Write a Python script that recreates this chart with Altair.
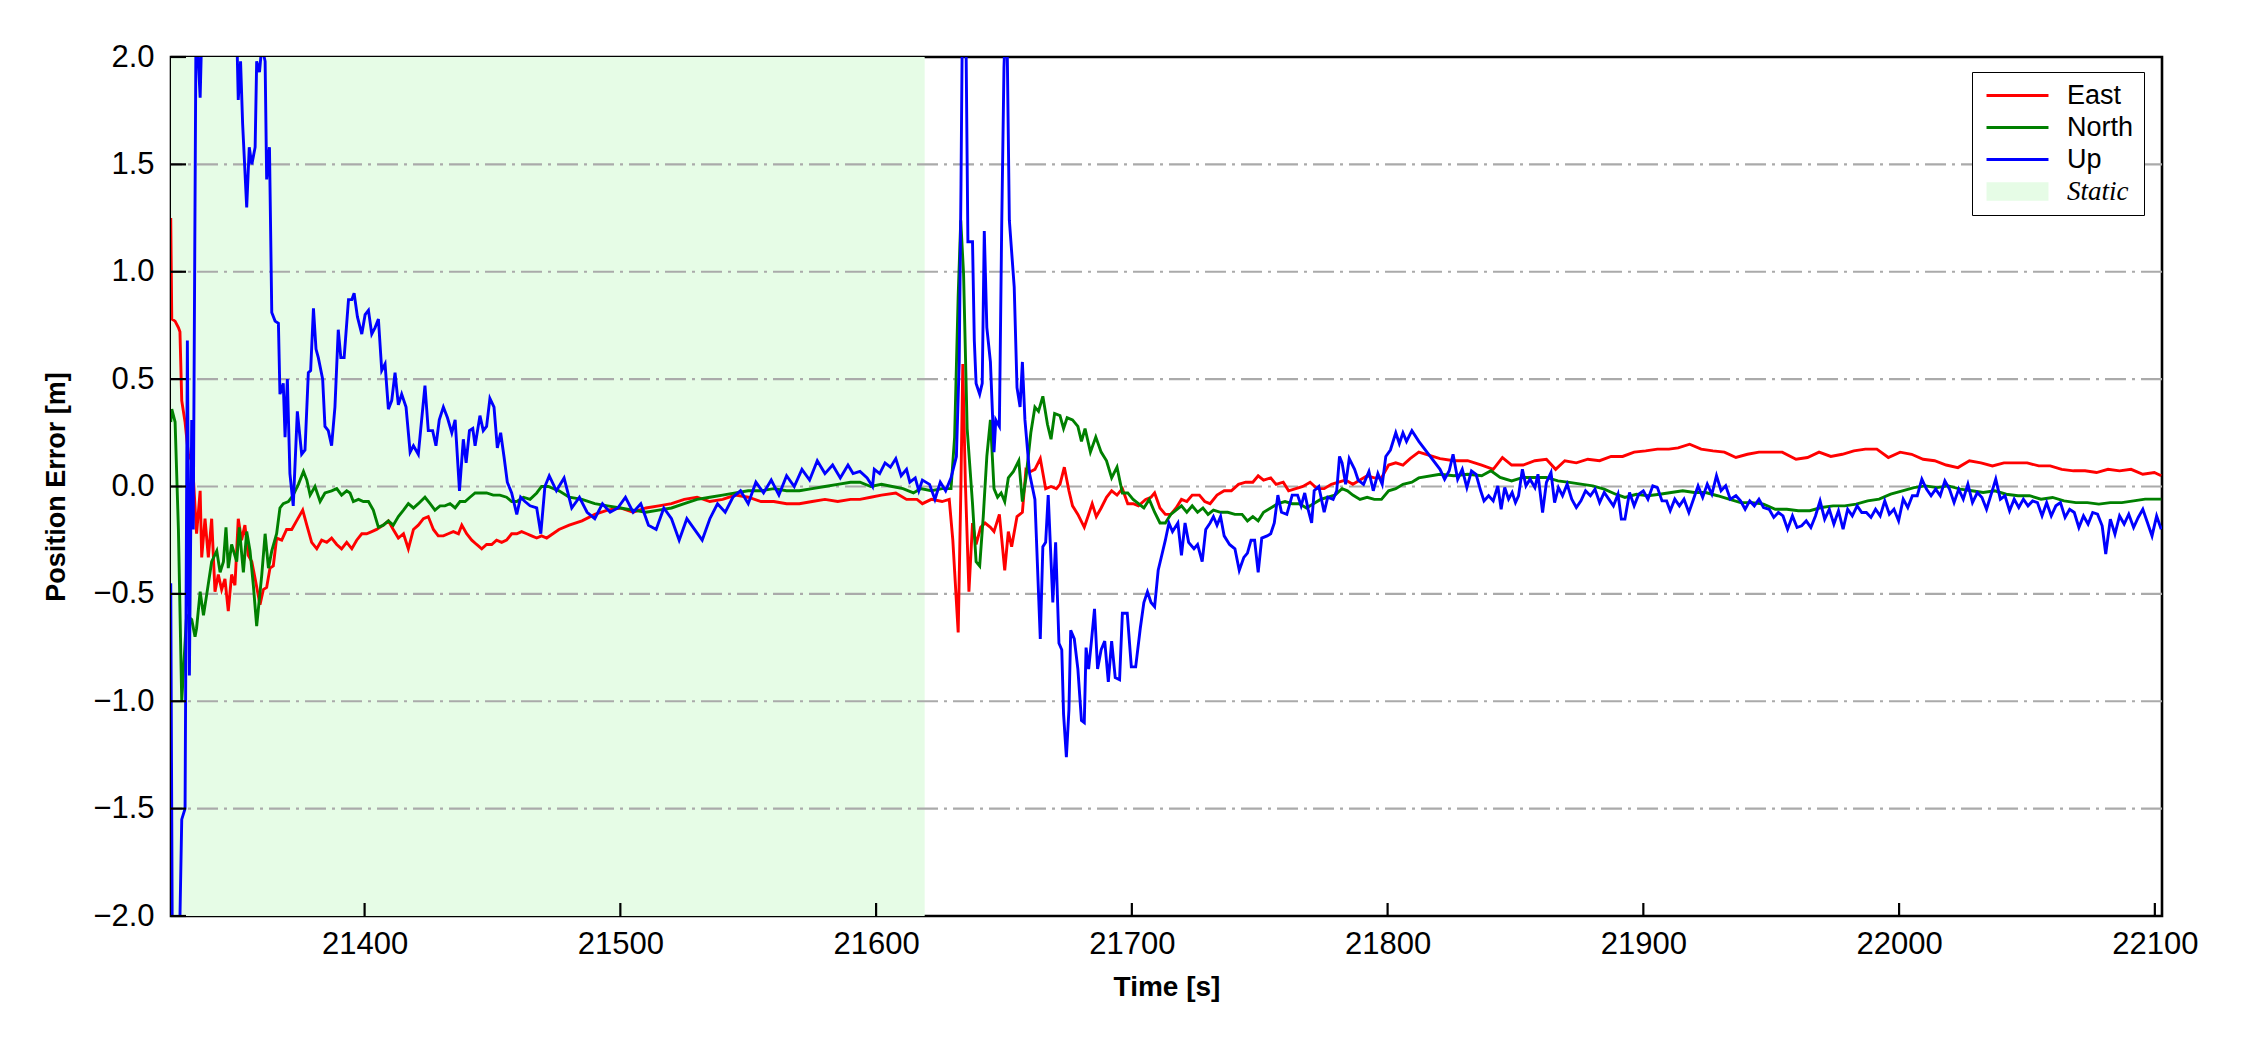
import altair as alt
import pandas as pd

# ---------------- data ----------------
east_t = [21324.2, 21324.6, 21325.9, 21327.2, 21327.8, 21328.5, 21329.8, 21331.1, 21332.4, 21333.0,
          21334.3, 21335.7, 21336.3, 21337.6, 21338.9, 21340.2, 21341.5, 21342.8, 21344.1, 21345.4,
          21346.7, 21348.0, 21349.3, 21350.6, 21351.9, 21353.2, 21354.5, 21355.9, 21357.2, 21359.1,
          21360.4, 21361.7, 21363.0, 21364.3, 21365.6, 21367.6, 21369.5, 21371.5, 21373.4, 21375.8,
          21377.4, 21379.3, 21381.3, 21383.2, 21385.2, 21387.1, 21389.1, 21391.0, 21393.0, 21395.0,
          21396.9, 21398.9, 21400.8, 21402.8, 21404.7, 21407.3, 21409.3, 21411.2, 21413.2, 21415.2,
          21417.1, 21419.1, 21421.0, 21423.0, 21424.9, 21426.9, 21428.8, 21430.8, 21432.7, 21434.7,
          21436.7, 21438.0, 21439.9, 21441.9, 21443.8, 21445.8, 21447.7, 21449.7, 21451.6, 21453.6,
          21455.5, 21457.5, 21459.5, 21461.4, 21463.4, 21465.3, 21467.3, 21469.2, 21471.2, 21476,
          21480, 21485, 21490, 21495, 21500, 21505, 21510, 21515, 21520, 21525,
          21530, 21535, 21540, 21545, 21550, 21555, 21560, 21565, 21570, 21575,
          21580, 21585, 21590, 21593.7, 21597.9, 21602.1, 21607.7, 21611.9, 21616.0, 21618.1,
          21621.6, 21625.8, 21628.6, 21630.0, 21632.1, 21633.1, 21633.9, 21634.9, 21636.3, 21637.7,
          21639.1, 21640.9, 21642.6, 21644.7, 21646.1, 21648.2, 21650.3, 21651.7, 21653.0, 21655.1,
          21657.2, 21658.6, 21660.5, 21662.1, 21664.2, 21666.3, 21668.4, 21670.5, 21671.9, 21673.6,
          21675.4, 21676.8, 21678.9, 21681.4, 21683.1, 21684.5, 21686.1, 21688.0, 21690.1, 21692.1,
          21694.2, 21696.3, 21698.4, 21700.5, 21702.6, 21705.4, 21707.5, 21708.9, 21711.0, 21713.1,
          21715.2, 21717.3, 21719.4, 21721.5, 21723.6, 21726.4, 21728.5, 21730.6, 21733.3, 21736.1,
          21738.9, 21741.7, 21744.5, 21747.3, 21749.4, 21751.5, 21754.3, 21756.4, 21759.2, 21761.3,
          21764.1, 21766.9, 21769.7, 21772.4, 21775.2, 21778.0, 21780.8, 21783.6, 21786.4, 21789.2,
          21792.0, 21794.8, 21797.6, 21800.4, 21803.2, 21806.0, 21808.8, 21812.2, 21820.5, 21825.9,
          21831.3, 21836.8, 21841.3, 21844.9, 21848.5, 21853.0, 21857.6, 21862.1, 21865.7, 21869.3,
          21873.8, 21878.3, 21882.9, 21887.4, 21891.9, 21896.4, 21900.9, 21905.5, 21910.0, 21913.6,
          21918.1, 21922.6, 21927.2, 21931.7, 21936.2, 21940.7, 21945.2, 21949.7, 21954.3, 21959.7,
          21964.2, 21968.7, 21973.3, 21977.8, 21982.3, 21986.8, 21991.3, 21995.8, 22000.4, 22004.9,
          22009.4, 22013.9, 22018.4, 22023.0, 22027.5, 22032.0, 22036.5, 22041.0, 22045.6, 22050.1,
          22054.6, 22059.1, 22063.6, 22068.2, 22072.7, 22077.2, 22081.7, 22086.2, 22090.7, 22095.3,
          22099.8, 22102.5]
east_v = [1.25, 0.78, 0.77, 0.74, 0.72, 0.4, 0.3, 0.15, 0.12, 0.05,
          -0.22, -0.02, -0.33, -0.15, -0.33, -0.15, -0.49, -0.41, -0.48, -0.43,
          -0.58, -0.41, -0.46, -0.15, -0.25, -0.18, -0.32, -0.35, -0.43, -0.55,
          -0.48, -0.47, -0.38, -0.37, -0.24, -0.25, -0.2, -0.2, -0.16, -0.11,
          -0.18, -0.26, -0.29, -0.25, -0.26, -0.24, -0.27, -0.29, -0.26, -0.29,
          -0.25, -0.22, -0.22, -0.21, -0.2, -0.18, -0.16, -0.2, -0.24, -0.22,
          -0.29, -0.2, -0.18, -0.15, -0.14, -0.2, -0.23, -0.23, -0.22, -0.21,
          -0.22, -0.18, -0.22, -0.25, -0.27, -0.29, -0.27, -0.27, -0.25, -0.26,
          -0.25, -0.22, -0.22, -0.21, -0.22, -0.23, -0.24, -0.23, -0.24, -0.2,
          -0.18, -0.16, -0.13, -0.11, -0.1, -0.12, -0.1, -0.09, -0.08, -0.06,
          -0.05, -0.07, -0.06, -0.04, -0.05, -0.07, -0.07, -0.08, -0.08, -0.07,
          -0.06, -0.07, -0.06, -0.06, -0.05, -0.04, -0.03, -0.06, -0.06, -0.08,
          -0.06, -0.07, -0.06, -0.25, -0.68, -0.04, 0.57, 0.02, -0.49, -0.17,
          -0.27, -0.19, -0.17, -0.19, -0.21, -0.13, -0.39, -0.21, -0.28, -0.14,
          -0.12, 0.08, 0.07, 0.08, 0.13, -0.01, 0.0, -0.01, 0.01, 0.09,
          -0.02, -0.09, -0.13, -0.19, -0.13, -0.08, -0.14, -0.1, -0.05, -0.02,
          -0.04, -0.01, -0.08, -0.08, -0.09, -0.06, -0.05, -0.03, -0.1, -0.13,
          -0.13, -0.1, -0.06, -0.07, -0.04, -0.04, -0.07, -0.08, -0.04, -0.02,
          -0.02, 0.01, 0.02, 0.02, 0.05, 0.03, 0.04, 0.01, 0.02, -0.02,
          -0.01, 0.0, 0.02, -0.01, -0.01, 0.01, 0.02, 0.03, 0.01, 0.03,
          0.05, 0.04, 0.04, 0.1, 0.11, 0.1, 0.13, 0.16, 0.13, 0.12,
          0.12, 0.10, 0.08, 0.135, 0.10, 0.10, 0.12, 0.127, 0.08, 0.12,
          0.11, 0.127, 0.12, 0.14, 0.14, 0.16, 0.166, 0.174, 0.174, 0.18,
          0.197, 0.174, 0.166, 0.16, 0.135, 0.15, 0.16, 0.16, 0.16, 0.127,
          0.135, 0.16, 0.14, 0.15, 0.166, 0.174, 0.174, 0.135, 0.16, 0.15,
          0.127, 0.12, 0.10, 0.088, 0.12, 0.11, 0.096, 0.11, 0.11, 0.11,
          0.096, 0.096, 0.08, 0.073, 0.073, 0.065, 0.08, 0.073, 0.08, 0.057,
          0.065, 0.05]

north_t = [21324.2, 21324.6, 21325.9, 21327.2, 21328.5, 21330.4, 21332.4, 21333.7, 21334.3, 21335.7,
           21337.0, 21338.3, 21340.2, 21342.2, 21343.5, 21344.8, 21345.8, 21346.7, 21348.0, 21350.0,
           21351.0, 21352.6, 21353.9, 21355.2, 21356.5, 21357.8, 21359.8, 21361.1, 21362.4, 21363.7,
           21365.6, 21366.9, 21368.2, 21370.2, 21372.1, 21374.1, 21376.1, 21377.4, 21378.7, 21380.6,
           21382.6, 21384.5, 21387.1, 21389.1, 21391.0, 21393.0, 21394.3, 21395.6, 21397.6, 21399.5,
           21401.5, 21403.4, 21405.4, 21407.3, 21409.3, 21411.2, 21413.2, 21415.2, 21417.1, 21419.1,
           21421.0, 21423.6, 21425.6, 21427.5, 21429.5, 21431.4, 21433.4, 21435.4, 21437.3, 21439.3,
           21441.2, 21443.2, 21445.1, 21447.7, 21450.3, 21452.9, 21455.5, 21457.5, 21459.5, 21462.1,
           21464.7, 21467.3, 21469.2, 21471.8, 21476, 21480, 21485, 21490, 21495, 21500,
           21505, 21510, 21515, 21520, 21525, 21530, 21535, 21540, 21545, 21550,
           21555, 21560, 21565, 21570, 21575, 21580, 21585, 21590, 21593.7, 21597.9,
           21602.1, 21606.3, 21610.5, 21614.6, 21617.4, 21621.6, 21625.8, 21629.3, 21630.7, 21632.1,
           21633.1, 21634.2, 21635.6, 21637.7, 21639.1, 21640.5, 21641.9, 21643.3, 21644.7, 21646.1,
           21647.5, 21648.9, 21650.3, 21651.7, 21653.7, 21655.8, 21657.2, 21658.6, 21660.5, 21662.1,
           21663.5, 21665.2, 21667.0, 21668.4, 21669.8, 21671.9, 21673.3, 21674.7, 21676.8, 21678.9,
           21680.3, 21681.7, 21683.8, 21685.9, 21688.0, 21690.1, 21692.1, 21694.2, 21696.3, 21698.4,
           21700.5, 21702.6, 21704.7, 21706.8, 21708.9, 21711.0, 21713.1, 21715.2, 21717.3, 21719.4,
           21721.5, 21723.6, 21725.7, 21727.8, 21729.8, 21731.9, 21734.7, 21737.5, 21740.3, 21743.1,
           21745.2, 21747.3, 21749.4, 21751.5, 21754.3, 21757.1, 21759.9, 21762.7, 21765.5, 21768.3,
           21771.0, 21773.8, 21776.6, 21779.4, 21782.2, 21784.3, 21786.4, 21789.2, 21792.0, 21794.8,
           21797.6, 21800.4, 21803.2, 21806.0, 21809.5, 21812.2, 21820.5, 21825.9, 21831.3, 21836.8,
           21840.4, 21844.0, 21848.5, 21853.0, 21857.6, 21862.1, 21866.6, 21871.1, 21875.6, 21880.2,
           21884.7, 21889.2, 21892.8, 21897.3, 21901.8, 21906.4, 21910.9, 21915.4, 21919.9, 21924.4,
           21929.0, 21933.5, 21938.0, 21942.5, 21947.0, 21951.6, 21956.1, 21960.6, 21965.1, 21969.6,
           21974.2, 21978.7, 21983.2, 21987.7, 21992.2, 21996.7, 22001.3, 22005.8, 22010.3, 22014.8,
           22019.3, 22023.9, 22028.4, 22032.9, 22037.4, 22041.9, 22046.5, 22051.0, 22055.5, 22060.0,
           22064.5, 22069.1, 22073.6, 22078.1, 22082.6, 22087.1, 22091.7, 22096.2, 22102.5]
north_v = [0.3, 0.36, 0.3, -0.2, -1.0, -0.6, -0.62, -0.7, -0.66, -0.49,
           -0.6, -0.5, -0.35, -0.3, -0.4, -0.35, -0.19, -0.38, -0.27, -0.35,
           -0.19, -0.4, -0.21, -0.3, -0.46, -0.65, -0.41, -0.22, -0.38, -0.3,
           -0.22, -0.1, -0.08, -0.07, -0.04, 0.01, 0.07, 0.03, -0.04, 0.0,
           -0.07, -0.03, -0.02, -0.01, -0.04, -0.02, -0.03, -0.07, -0.06, -0.07,
           -0.07, -0.11, -0.19, -0.18, -0.16, -0.18, -0.14, -0.11, -0.08, -0.1,
           -0.08, -0.05, -0.08, -0.11, -0.09, -0.09, -0.08, -0.1, -0.07, -0.07,
           -0.05, -0.03, -0.03, -0.03, -0.04, -0.04, -0.05, -0.07, -0.07, -0.05,
           -0.06, -0.03, 0.0, 0.0, -0.02, -0.05, -0.06, -0.08, -0.09, -0.1,
           -0.11, -0.12, -0.11, -0.1, -0.08, -0.06, -0.05, -0.04, -0.03, -0.02,
           -0.02, -0.01, -0.02, -0.02, -0.01, 0.0, 0.01, 0.02, 0.02, 0.0,
           0.01, 0.0, -0.01, -0.03, -0.01, -0.02, -0.01, -0.01, 0.23, 0.89,
           1.24, 0.99, 0.27, -0.08, -0.35, -0.37, -0.14, 0.14, 0.31, -0.01,
           -0.05, -0.03, -0.07, 0.04, 0.07, 0.12, -0.07, 0.04, 0.25, 0.37,
           0.35, 0.42, 0.29, 0.22, 0.34, 0.33, 0.27, 0.32, 0.31, 0.28,
           0.21, 0.27, 0.16, 0.23, 0.16, 0.12, 0.04, 0.09, -0.03, -0.03,
           -0.06, -0.08, -0.1, -0.06, -0.12, -0.17, -0.17, -0.13, -0.11, -0.09,
           -0.12, -0.09, -0.12, -0.1, -0.13, -0.11, -0.12, -0.12, -0.13, -0.13,
           -0.16, -0.14, -0.16, -0.12, -0.1, -0.08, -0.07, -0.08, -0.08, -0.1,
           -0.08, -0.06, -0.05, -0.04, -0.01, -0.02, -0.04, -0.06, -0.05, -0.06,
           -0.06, -0.02, -0.01, 0.01, 0.02, 0.04, 0.057, 0.05, 0.057, 0.05,
           0.073, 0.042, 0.026, 0.042, 0.042, 0.042, 0.026, 0.019, 0.011, 0.003,
           -0.012, -0.036, -0.051, -0.036, -0.043, -0.036, -0.028, -0.02, -0.028, -0.028,
           -0.043, -0.059, -0.075, -0.075, -0.082, -0.106, -0.106, -0.113, -0.113, -0.098,
           -0.09, -0.09, -0.082, -0.067, -0.059, -0.036, -0.02, -0.005, 0.003, -0.005,
           0.003, -0.012, -0.02, -0.028, -0.02, -0.036, -0.043, -0.043, -0.059, -0.051,
           -0.067, -0.075, -0.075, -0.082, -0.075, -0.075, -0.067, -0.059, -0.059]

up_t = [21324.2, 21324.9, 21327.2, 21328.5, 21329.8, 21330.7, 21331.5, 21332.4, 21333.0, 21334.1,
        21335.0, 21335.7, 21336.3, 21337.6, 21340.0, 21345.0, 21349.3, 21350.6, 21351.5, 21352.3,
        21353.9, 21354.9, 21355.9, 21357.2, 21357.8, 21358.9, 21359.8, 21361.1, 21361.7, 21362.8,
        21363.7, 21365.0, 21366.3, 21366.9, 21368.2, 21368.9, 21369.8, 21370.8, 21372.1, 21373.7,
        21375.4, 21376.7, 21378.0, 21378.9, 21380.0, 21381.0, 21381.9, 21383.6, 21384.5, 21385.8,
        21387.1, 21388.4, 21389.7, 21390.7, 21392.0, 21393.7, 21395.0, 21395.9, 21397.2, 21398.9,
        21400.2, 21401.5, 21402.8, 21404.1, 21405.4, 21406.7, 21408.0, 21409.3, 21410.6, 21411.9,
        21413.2, 21414.5, 21416.2, 21417.8, 21419.1, 21421.0, 21422.3, 21423.6, 21424.9, 21426.6,
        21427.9, 21429.2, 21430.8, 21432.4, 21434.1, 21435.4, 21437.1, 21438.6, 21439.7, 21441.0,
        21442.3, 21443.2, 21445.1, 21446.4, 21447.7, 21449.0, 21450.6, 21451.9, 21453.2, 21454.5,
        21455.8, 21457.5, 21459.5, 21461.0, 21462.7, 21464.7, 21467.3, 21468.9, 21470.5, 21472.2,
        21475, 21478, 21481, 21484, 21487, 21490, 21493, 21496, 21499, 21502,
        21505, 21508, 21511, 21514, 21517, 21520, 21523, 21526, 21529, 21532,
        21535, 21538, 21541, 21544, 21547, 21550, 21553, 21556, 21559, 21562,
        21565, 21568, 21571, 21574, 21577, 21580, 21583, 21586, 21589, 21591,
        21593.7, 21596.5, 21598.6, 21599.3, 21601.4, 21603.5, 21605.6, 21607.7, 21609.8, 21611.9,
        21613.2, 21615.3, 21616.7, 21618.1, 21620.9, 21623.0, 21625.1, 21627.2, 21629.3, 21631.4,
        21632.5, 21633.2, 21633.9, 21634.9, 21635.9, 21637.7, 21638.4, 21639.1, 21640.5, 21641.5,
        21642.3, 21643.3, 21644.7, 21646.1, 21646.8, 21648.2, 21649.1, 21650.0, 21651.0, 21652.1,
        21654.0, 21655.1, 21656.3, 21657.2, 21658.2, 21660.0, 21662.1, 21664.2, 21665.2, 21666.3,
        21667.3, 21669.1, 21670.2, 21671.5, 21672.6, 21673.3, 21674.4, 21675.4, 21676.1, 21677.5,
        21678.9, 21680.3, 21681.4, 21682.1, 21683.1, 21684.2, 21685.4, 21686.6, 21688.0, 21689.4,
        21690.8, 21692.1, 21693.5, 21695.2, 21696.3, 21698.2, 21699.8, 21701.5, 21703.3, 21704.7,
        21706.1, 21707.5, 21708.9, 21710.3, 21711.7, 21713.1, 21714.5, 21715.9, 21718.0, 21719.4,
        21720.8, 21722.2, 21724.3, 21725.7, 21727.5, 21728.9, 21730.6, 21731.9, 21733.3, 21734.7,
        21736.1, 21738.2, 21740.3, 21742.0, 21743.8, 21745.2, 21746.6, 21748.0, 21749.4, 21750.8,
        21752.9, 21754.3, 21755.7, 21757.1, 21758.5, 21760.6, 21762.7, 21764.8, 21766.2, 21767.6,
        21769.0, 21770.3, 21771.3, 21773.1, 21775.2, 21776.6, 21778.7, 21780.1, 21781.2, 21782.2,
        21783.6, 21785.0, 21787.1, 21788.5, 21790.6, 21792.7, 21794.4, 21796.2, 21797.9, 21799.3,
        21801.1, 21803.2, 21804.6, 21806.0, 21807.4, 21809.5, 21812.2,
        21820.5, 21822.3, 21824.1, 21825.6, 21827.4, 21829.2, 21831.0, 21832.8, 21834.6, 21836.4,
        21837.7, 21839.5, 21841.3, 21843.1, 21844.4, 21845.8, 21847.3, 21848.7, 21850.0, 21851.2,
        21852.7, 21854.1, 21855.7, 21857.6, 21858.8, 21860.6, 21862.1, 21863.9, 21865.3, 21866.8,
        21868.4, 21870.2, 21872.0, 21873.8, 21875.6, 21877.4, 21879.3, 21881.1, 21882.9, 21884.7,
        21886.5, 21888.3, 21890.1, 21891.4, 21892.8, 21894.6, 21896.4, 21898.2, 21900.0, 21901.8,
        21903.7, 21905.5, 21907.3, 21909.1, 21910.5, 21912.3, 21914.1, 21915.9, 21917.8, 21919.6,
        21921.4, 21923.2, 21925.0, 21926.8, 21928.6, 21930.4, 21932.2, 21934.0, 21936.2, 21938.0,
        21939.8, 21941.6, 21943.4, 21945.2, 21947.0, 21949.2, 21951.0, 21952.8, 21954.6, 21956.4,
        21958.3, 21960.1, 21961.9, 21963.7, 21965.5, 21967.3, 21969.1, 21970.9, 21972.7, 21974.5,
        21976.3, 21978.1, 21979.9, 21981.7, 21983.6, 21985.4, 21987.2, 21989.0, 21990.8, 21992.6,
        21994.4, 21996.2, 21998.0, 21999.8, 22001.6, 22003.4, 22005.2, 22007.1, 22008.9, 22010.7,
        22012.5, 22014.3, 22016.1, 22017.9, 22019.7, 22021.5, 22023.3, 22025.1, 22026.9, 22028.7,
        22030.6, 22032.4, 22034.2, 22036.0, 22037.8, 22039.6, 22041.4, 22043.2, 22045.0, 22046.8,
        22048.6, 22050.4, 22052.2, 22054.1, 22055.9, 22057.7, 22059.5, 22061.3, 22063.1, 22064.9,
        22066.7, 22068.5, 22070.3, 22072.1, 22073.9, 22075.7, 22077.6, 22079.4, 22080.8, 22082.6,
        22084.4, 22086.2, 22088.0, 22089.8, 22091.7, 22093.5, 22095.3, 22097.1, 22098.9, 22100.7,
        22102.5]
up_v = [-0.45, -2.4, -2.4, -1.55, -1.5, 0.68, -0.88, 0.31, -0.2, 2.2,
        1.98, 1.81, 2.1, 2.6, 2.8, 2.7, 2.5, 1.8, 1.98, 1.69,
        1.3, 1.58, 1.5, 1.58, 1.98, 1.93, 2.05, 1.98, 1.43, 1.58,
        0.81, 0.77, 0.76, 0.43, 0.48, 0.23, 0.5, 0.06, -0.09, 0.35,
        0.15, 0.17, 0.53, 0.54, 0.83, 0.64, 0.6, 0.5, 0.28, 0.26,
        0.19, 0.37, 0.73, 0.6, 0.6, 0.87, 0.87, 0.9, 0.79, 0.71,
        0.8, 0.82, 0.71, 0.74, 0.78, 0.54, 0.57, 0.36, 0.4, 0.53,
        0.38, 0.43, 0.37, 0.16, 0.19, 0.15, 0.31, 0.47, 0.26, 0.26,
        0.19, 0.31, 0.37, 0.32, 0.25, 0.31, -0.02, 0.22, 0.11, 0.26,
        0.27, 0.19, 0.33, 0.26, 0.28, 0.41, 0.37, 0.18, 0.25, 0.14,
        0.02, -0.03, -0.13, -0.05, -0.07, -0.09, -0.1, -0.22, 0.0, 0.05,
        -0.02, 0.04, -0.1, -0.05, -0.12, -0.15, -0.08, -0.12, -0.1, -0.05,
        -0.12, -0.08, -0.18, -0.2, -0.1, -0.15, -0.25, -0.15, -0.2, -0.25,
        -0.15, -0.08, -0.12, -0.05, -0.02, -0.08, 0.02, -0.03, 0.03, -0.04,
        0.05, 0.0, 0.08, 0.03, 0.12, 0.06, 0.1, 0.04, 0.1, 0.06,
        0.07, 0.04, 0.0, 0.08, 0.06, 0.11, 0.09, 0.13, 0.05, 0.08,
        0.02, 0.04, -0.02, 0.03, 0.01, -0.06, 0.02, -0.02, 0.04, 0.14,
        0.58, 1.41, 2.4, 2.4, 1.14, 1.14, 0.68, 0.48, 0.43, 0.48,
        1.19, 0.74, 0.58, 0.16, 0.31, 0.28, 1.2, 1.95, 2.3, 1.24,
        0.93, 0.46, 0.37, 0.58, 0.31, 0.06, -0.06, -0.71, -0.28, -0.26,
        -0.04, -0.54, -0.26, -0.73, -0.76, -1.06, -1.26, -1.04, -0.67, -0.71,
        -0.85, -1.09, -1.1, -0.75, -0.85, -0.72, -0.57, -0.85, -0.76, -0.72,
        -0.91, -0.72, -0.89, -0.9, -0.59, -0.59, -0.84, -0.84, -0.66, -0.54,
        -0.49, -0.54, -0.56, -0.39, -0.32, -0.25, -0.17, -0.21, -0.17, -0.32,
        -0.17, -0.26, -0.29, -0.27, -0.35, -0.2, -0.17, -0.14, -0.18, -0.14,
        -0.23, -0.27, -0.29, -0.39, -0.33, -0.31, -0.25, -0.25, -0.4, -0.24,
        -0.23, -0.22, -0.17, -0.04, -0.12, -0.13, -0.04, -0.04, -0.09, -0.03,
        -0.11, -0.17, -0.02, 0.0, -0.12, -0.05, -0.06, -0.02, 0.14, 0.11,
        0.01, 0.13, 0.08, 0.03, 0.01, 0.07, -0.02, 0.06, 0.01, 0.14,
        0.17, 0.25, 0.2, 0.25, 0.21, 0.26, 0.21,
        0.08, 0.034, 0.073, 0.15, 0.034, 0.08, -0.005, 0.073, 0.057, -0.02,
        -0.067, -0.043, -0.067, 0.003, -0.106, -0.005, -0.059, -0.028, -0.075, -0.043,
        0.08, 0.003, 0.034, -0.005, 0.057, -0.121, 0.019, 0.065, -0.075, -0.005,
        -0.043, 0.011, -0.059, -0.098, -0.067, -0.02, -0.043, -0.012, -0.075, -0.028,
        -0.059, -0.09, -0.036, -0.152, -0.152, -0.028, -0.09, -0.036, -0.02, -0.059,
        0.003, -0.005, -0.067, -0.067, -0.113, -0.059, -0.09, -0.059, -0.121, -0.059,
        0.003, -0.051, 0.011, -0.036, 0.05, -0.02, 0.003, -0.059, -0.043, -0.067,
        -0.106, -0.067, -0.09, -0.059, -0.098, -0.106, -0.144, -0.121, -0.137, -0.199,
        -0.137, -0.191, -0.183, -0.16, -0.191, -0.137, -0.067, -0.152, -0.106, -0.175,
        -0.113, -0.199, -0.106, -0.137, -0.09, -0.121, -0.121, -0.144, -0.106, -0.137,
        -0.067, -0.129, -0.106, -0.16, -0.059, -0.098, -0.043, -0.043, 0.034, -0.012,
        -0.043, -0.012, -0.043, 0.026, -0.012, -0.075, -0.012, -0.059, 0.011, -0.075,
        -0.028, -0.051, -0.106, -0.036, 0.034, -0.059, -0.043, -0.113, -0.059, -0.098,
        -0.059, -0.09, -0.067, -0.075, -0.137, -0.075, -0.137, -0.09, -0.075, -0.144,
        -0.106, -0.121, -0.191, -0.137, -0.175, -0.121, -0.129, -0.183, -0.315, -0.152,
        -0.222, -0.137, -0.175, -0.129, -0.191, -0.144, -0.106, -0.168, -0.23, -0.137,
        -0.199]

series_names = ["East", "North", "Up"]
legend_names = ["East", "North", "Up", "Static"]
legend_colors = ["#ff0000", "#008000", "#0000ff", "#e6fce6"]
static_span = [21300.0, 21619.0]
x_ticks = [21400, 21500, 21600, 21700, 21800, 21900, 22000, 22100]
y_ticks = [-2.0, -1.5, -1.0, -0.5, 0.0, 0.5, 1.0, 1.5, 2.0]
grid_y = [-1.5, -1.0, -0.5, 0.0, 0.5, 1.0, 1.5]
x_domain = [21324.3, 22102.8]
y_domain = [-2.0, 2.0]

# ---------------- tables ----------------
frames = []
for name, ts, vs in zip(series_names, [east_t, north_t, up_t], [east_v, north_v, up_v]):
    frames.append(pd.DataFrame({"t": ts, "v": vs, "series": name}))
lines_df = pd.concat(frames, ignore_index=True)
static_df = pd.DataFrame({"t0": [static_span[0]], "t1": [static_span[1]]})
xt_df = pd.DataFrame({"t": x_ticks})
yt_df = pd.DataFrame({"v": y_ticks})
grid_df = pd.DataFrame({"v": grid_y})

W, H = 1991, 859
FONT = "Liberation Sans"
xs = alt.Scale(domain=x_domain, nice=False, zero=False)
ys = alt.Scale(domain=y_domain, nice=False, zero=False)

TEST = "datum.value === 'Static'"


def pick(a, b):
    return alt.ExprRef(expr=TEST + " ? " + a + " : " + b)


x_axis = alt.Axis(values=x_ticks, format="d", ticks=False, domain=False, grid=False,
                  labelFont=FONT, labelFontSize=31, labelColor="black", labelPadding=13,
                  labelFlush=False, title="Time [s]", titleFont=FONT, titleFontSize=28,
                  titleFontWeight="bold", titleColor="black", titlePadding=14)
y_axis = alt.Axis(values=y_ticks, format=".1f", ticks=False, domain=False, grid=False,
                  labelFont=FONT, labelFontSize=31, labelColor="black", labelPadding=17,
                  title="Position Error [m]", titleFont=FONT, titleFontSize=27,
                  titleFontWeight="bold", titleColor="black", titlePadding=22)

legend = alt.Legend(
    title=None, orient="none", legendX=1801, legendY=15,
    padding=10, strokeColor="black", fillColor="white", cornerRadius=0,
    labelFont=pick("'Liberation Serif'", "'" + FONT + "'"),
    labelFontStyle=pick("'italic'", "'normal'"),
    labelFontSize=27, labelColor="black",
    symbolSize=240, symbolOffset=22, labelOffset=36, rowPadding=4,
    symbolType=pick("'M-4,-1.2H4V1.2H-4Z'", "'M-4,0H4'"),
    symbolFillColor=pick("'" + legend_colors[3] + "'", "'transparent'"),
    symbolStrokeWidth=pick("0", "2.8"),
)

static = alt.Chart(static_df).mark_rect(color=legend_colors[3], clip=True).encode(
    x=alt.X("t0:Q", scale=xs, axis=x_axis),
    x2="t1:Q",
)
grid = alt.Chart(grid_df).mark_rule(color="#aaaaaa", strokeWidth=2.2,
                                    strokeDash=[21, 6, 3, 6]).encode(
    y=alt.Y("v:Q", scale=ys, axis=y_axis),
)
lines = alt.Chart(lines_df).mark_line(strokeWidth=2.9, clip=True).encode(
    x=alt.X("t:Q", scale=xs),
    y=alt.Y("v:Q", scale=ys),
    color=alt.Color("series:N",
                    scale=alt.Scale(domain=legend_names, range=legend_colors),
                    legend=legend),
)
xt = alt.Chart(xt_df).mark_rule(color="black", strokeWidth=2.2).encode(
    x=alt.X("t:Q", scale=xs), y=alt.value(H), y2=alt.value(H - 13))
yt = alt.Chart(yt_df).mark_rule(color="black", strokeWidth=2.2).encode(
    y=alt.Y("v:Q", scale=ys), x=alt.value(0), x2=alt.value(15))

chart = alt.layer(static, grid, lines, xt, yt).properties(
    width=W, height=H, background="white",
    padding={"left": 163, "top": 49, "right": 50, "bottom": 90},
    autosize=alt.AutoSizeParams(type="none"),
).configure_view(stroke="black", strokeWidth=2.6)

chart.save("out.html", embed_options={"renderer": "svg", "actions": False})
